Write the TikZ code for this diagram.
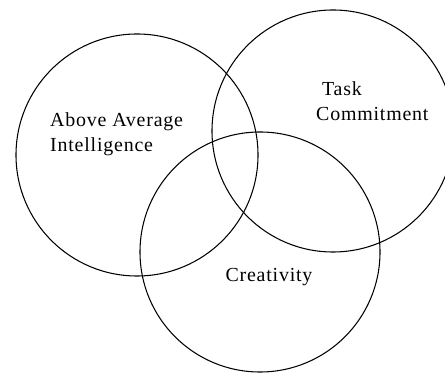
\documentclass[tikz,border=0pt]{standalone}
\usepackage{fontspec}
\setmainfont[LetterSpace=4]{Liberation Serif}

\begin{document}
\begin{tikzpicture}[x=0.03cm,y=-0.03cm]
  \tikzstyle{ring}=[circle,draw,line width=0.9pt,minimum size=7.26cm,inner sep=0pt]
  \tikzstyle{lbl}=[font=\fontsize{17}{21}\selectfont,align=left,anchor=west,inner sep=0pt]

  \useasboundingbox (0,0) rectangle (445,375);
  \clip (0,0) rectangle (445,375);

  % the three rings
  \node [ring] (intel) at (137,155) {};
  \node [ring] (task) at (333,131) {};
  \node [ring,minimum size=7.2cm] (creat) at (260,252) {};

  \node [lbl] (intellbl) at (50,134) {Above Average\\Intelligence};
  \node [lbl] (tasklbl) at (316,101) {\hspace*{5pt}Task\\Commitment};
  \node [lbl,anchor=center] (creatlbl) at (269,277) {Creativity};
\end{tikzpicture}
\end{document}
